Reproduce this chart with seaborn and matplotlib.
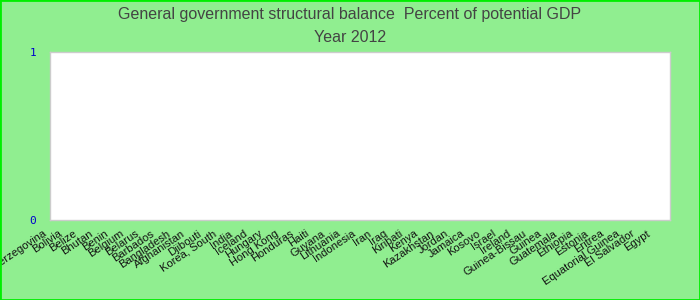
import matplotlib
matplotlib.use("Agg")
import matplotlib.pyplot as plt
import matplotlib.transforms as mtransforms
import seaborn as sns
import pandas as pd

countries = ["Bosnia and Herzegovina", "Bolivia", "Belize", "Bhutan", "Benin", "Belgium",
             "Belarus", "Barbados", "Bangladesh", "Afghanistan", "Djibouti", "Korea, South",
             "India", "Iceland", "Hungary", "Hong Kong", "Honduras", "Haiti", "Guyana",
             "Lithuania", "Indonesia", "Iran", "Iraq", "Kiribati", "Kenya", "Kazakhstan",
             "Jordan", "Jamaica", "Kosovo", "Israel", "Ireland", "Guinea-Bissau", "Guinea",
             "Guatemala", "Ethiopia", "Estonia", "Eritrea", "Equatorial Guinea",
             "El Salvador", "Egypt"]
values = [0.0] * len(countries)
y_ticks = [0, 1]

title_line1 = "General government structural balance  Percent of potential GDP"
title_line2 = "Year 2012"

df = pd.DataFrame({"country": countries, "value": values})

sns.set_theme(style="white")
plt.rcParams["font.family"] = ["Liberation Sans", "DejaVu Sans"]

fig = plt.figure(figsize=(7, 3), dpi=100, facecolor="#90EE90")
ax = fig.add_axes([50 / 700, 1 - 220 / 300, 620 / 700, 168 / 300])
sns.barplot(data=df, x="country", y="value", ax=ax, color="#3366cc")
ax.set_facecolor("white")
ax.set_ylim(0, 1)
ax.set_yticks(y_ticks)
ax.set_yticklabels([str(t) for t in y_ticks], color="#0000cc", fontsize=8,
                   family="DejaVu Sans Mono")
ax.tick_params(axis="y", length=0, pad=10)
ax.tick_params(axis="x", length=0, pad=6)
ax.set_xlabel("")
ax.set_ylabel("")
ax.set_xticks(range(len(countries)))
ax.set_xticklabels(countries, rotation=34, ha="right", fontsize=8, color="#111111")
offset = mtransforms.ScaledTranslation(-10 / 100, 0, fig.dpi_scale_trans)
for lbl in ax.get_xticklabels():
    lbl.set_transform(lbl.get_transform() + offset)
for s in ax.spines.values():
    s.set_color("#cccccc")
    s.set_linewidth(1)

fig.text(0.5, 1 - 14 / 300, title_line1, ha="center", va="center", fontsize=11.5, color="#444444")
fig.text(0.5, 1 - 37 / 300, title_line2, ha="center", va="center", fontsize=11.5, color="#444444")

border = plt.Rectangle((0, 0), 1, 1, transform=fig.transFigure, fill=False,
                       edgecolor="#00ee00", linewidth=2)
fig.patches.append(border)

fig.savefig("out.png", dpi=100, facecolor=fig.get_facecolor())
